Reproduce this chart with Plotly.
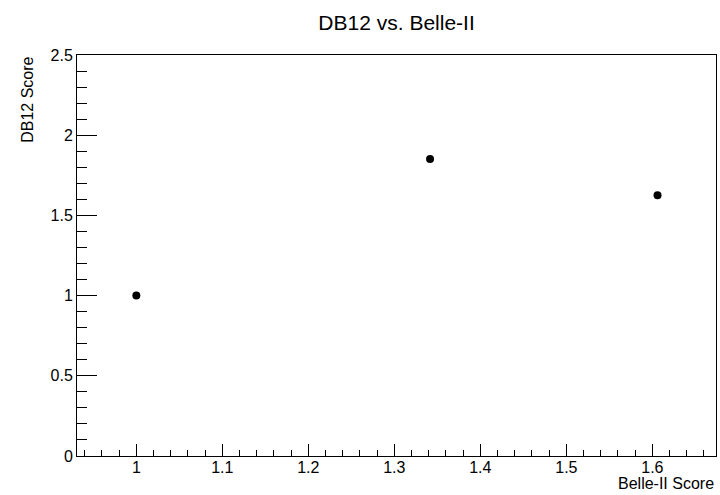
import plotly.graph_objects as go

belle_scores = [1.0, 1.3415, 1.606]
db12_scores = [1.0, 1.852, 1.625]

title_text = "DB12 vs. Belle-II"
x_title = "Belle-II Score"
y_title = "DB12 Score"

FONT = "Liberation Sans, Arial, sans-serif"

fig = go.Figure()
fig.add_trace(go.Scatter(
    x=belle_scores, y=db12_scores, mode="markers",
    marker=dict(color="black", size=8, symbol="circle"),
    showlegend=False,
))

fig.update_layout(
    width=720, height=495,
    margin=dict(l=77, r=4, t=55, b=39),
    paper_bgcolor="white", plot_bgcolor="white",
    font=dict(family=FONT, color="black", size=16),
    title=dict(text=title_text, x=0.5508, xanchor="center", y=0.955, yanchor="middle",
               font=dict(family=FONT, size=21, color="black")),
    xaxis=dict(
        range=[0.931, 1.674], showgrid=False, zeroline=False,
        showline=True, linecolor="black", linewidth=1, mirror=True,
        ticks="inside", ticklen=12, tickwidth=1, tickcolor="black",
        tick0=1.0, dtick=0.1, tickformat="~g", ticklabelstandoff=-3,
        tickfont=dict(family=FONT, size=16, color="black"),
        minor=dict(ticks="inside", ticklen=6, tickwidth=1, tickcolor="black",
                   tick0=1.0, dtick=0.02, showgrid=False),
    ),
    yaxis=dict(
        range=[0, 2.5], showgrid=False, zeroline=False,
        showline=True, linecolor="black", linewidth=1, mirror=True,
        ticks="inside", ticklen=20, tickwidth=1, tickcolor="black",
        tick0=0, dtick=0.5, tickformat="~g",
        tickfont=dict(family=FONT, size=16, color="black"),
        minor=dict(ticks="inside", ticklen=10, tickwidth=1, tickcolor="black",
                   tick0=0, dtick=0.1, showgrid=False),
    ),
    annotations=[
        dict(text=x_title, xref="paper", yref="paper", x=1.0, y=-0.069,
             xanchor="right", yanchor="middle", showarrow=False,
             font=dict(family=FONT, size=16, color="black")),
        dict(text=y_title, xref="paper", yref="paper", x=-0.0785, y=1.0,
             xanchor="center", yanchor="top", textangle=-90, showarrow=False,
             font=dict(family=FONT, size=16, color="black")),
    ],
)

fig.write_html("out.html")
